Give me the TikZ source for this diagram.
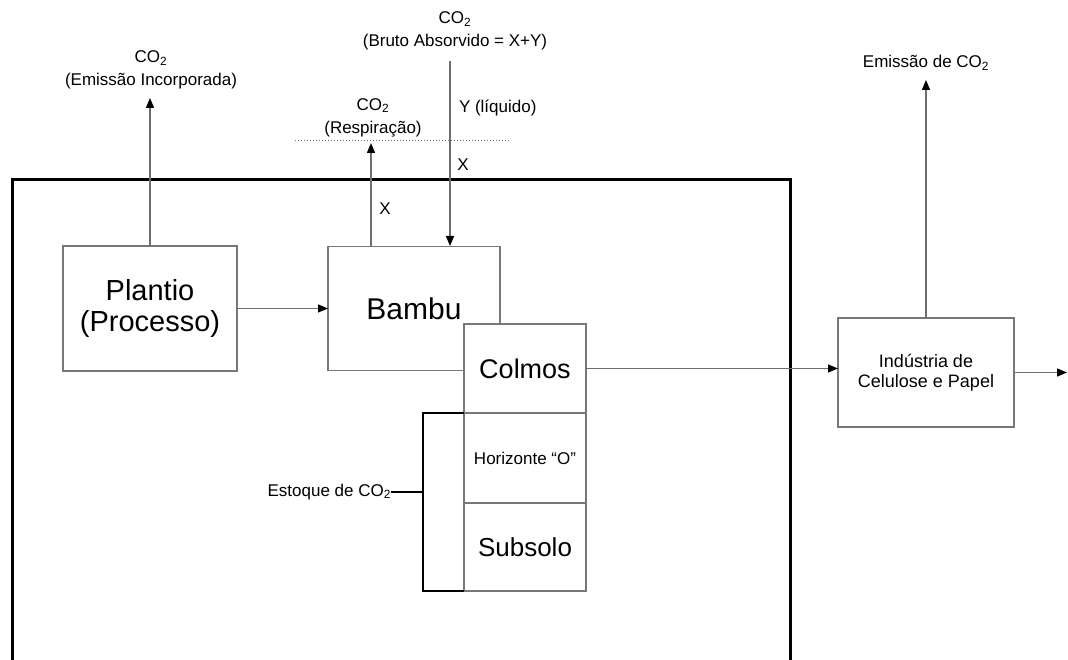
\documentclass[tikz,border=0pt]{standalone}
\usepackage{fontspec}
\setmainfont{Liberation Sans}
\definecolor{boxgr}{RGB}{120,120,120}
\definecolor{lngr}{RGB}{110,110,110}
\usepackage{tikz}
\usetikzlibrary{arrows.meta, positioning}

\newcommand{\cotwo}{CO\textsubscript{2}}

\begin{document}
\begin{tikzpicture}[x=1pt, y=-1pt, node distance=0pt, inner sep=0pt, outer sep=0pt,
  box/.style={draw=boxgr, line width=1.4pt, fill=white, align=center},
  flow/.style={draw=lngr, line width=1.4pt, -{Triangle[length=10pt, width=8pt, color=black]}},
  lbl/.style={align=center, font=\fontsize{17}{23}\selectfont}]
  \useasboundingbox (0,0) rectangle (1068,660);
  % frame
  \draw[line width=3pt] (12,662) -- (12,180) -- (790,180) -- (790,662);
  \draw[lngr, line width=1pt, dotted] (295,141) -- (510,141);
  % boxes
  \node[box, minimum width=174pt, minimum height=125pt, font=\fontsize{29}{31}\selectfont] (P) at (150,308.5) {Plantio\\(Processo)};
  \node[box, minimum width=172pt, minimum height=124pt, font=\fontsize{30}{30}\selectfont] (B) at (414,308.5) {Bambu};
  \node[box, minimum width=122pt, minimum height=89pt, font=\fontsize{27}{30}\selectfont] (C) at (525,368.5) {Colmos};
  \node[box, minimum width=122pt, minimum height=90pt, font=\fontsize{17}{20}\selectfont] (H) [below=of C] {Horizonte “O”};
  \node[box, minimum width=122pt, minimum height=88pt, font=\fontsize{26}{30}\selectfont] (S) [below=of H] {Subsolo};
  \node[box, minimum width=176pt, minimum height=109pt, font=\fontsize{18}{20}\selectfont] (I) at (926,372.5) {Indústria de\\Celulose e Papel};
  % labels
  \node[lbl] (E_P) at (151,70) {\cotwo\\(Emissão Incorporada)};
  \node[lbl] (R)   at (373,117.5) {\cotwo\\(Respiração)};
  \node[lbl] (A)   at (455,31) {\cotwo\\(Bruto Absorvido = X+Y)};
  \node[lbl, anchor=west] (Y)   at (459,108) {Y (líquido)};
  \node[lbl] (X_1) at (463,165) {X};
  \node[lbl] (X_2) at (385,209) {X};
  \node[lbl] (E_I) at (926,63) {Emissão de \cotwo};
  \node[lbl, anchor=east] (T) at (391,492) {Estoque de \cotwo};
  \coordinate (K)   at (423,492);
  \coordinate (P_t) at (150,98);
  \coordinate (R_t) at (371,143);
  \coordinate (R_b) at (371,246);
  \coordinate (A_t) at (450,61);
  \coordinate (A_b) at (450,246);
  \coordinate (I_t) at (926,80);
  \coordinate (O)   at (1067,372.5);
  % bracket
  \draw[line width=1.4pt] (H.north west) -| (K) |- (S.south west);
  \draw[line width=1.4pt] (T.east) -- (K);
  \path (P.east) edge [flow] (B.west)
        (P.north) edge [flow] (P_t)
        (R_b) edge [flow] (R_t)
        (A_t) edge [flow] (A_b)
        (C.east) edge [flow] (I.west |- C.east)
        (I.north) edge [flow] (I_t)
        (I.east) edge [flow] (O)
        ;
\end{tikzpicture}
\end{document}
